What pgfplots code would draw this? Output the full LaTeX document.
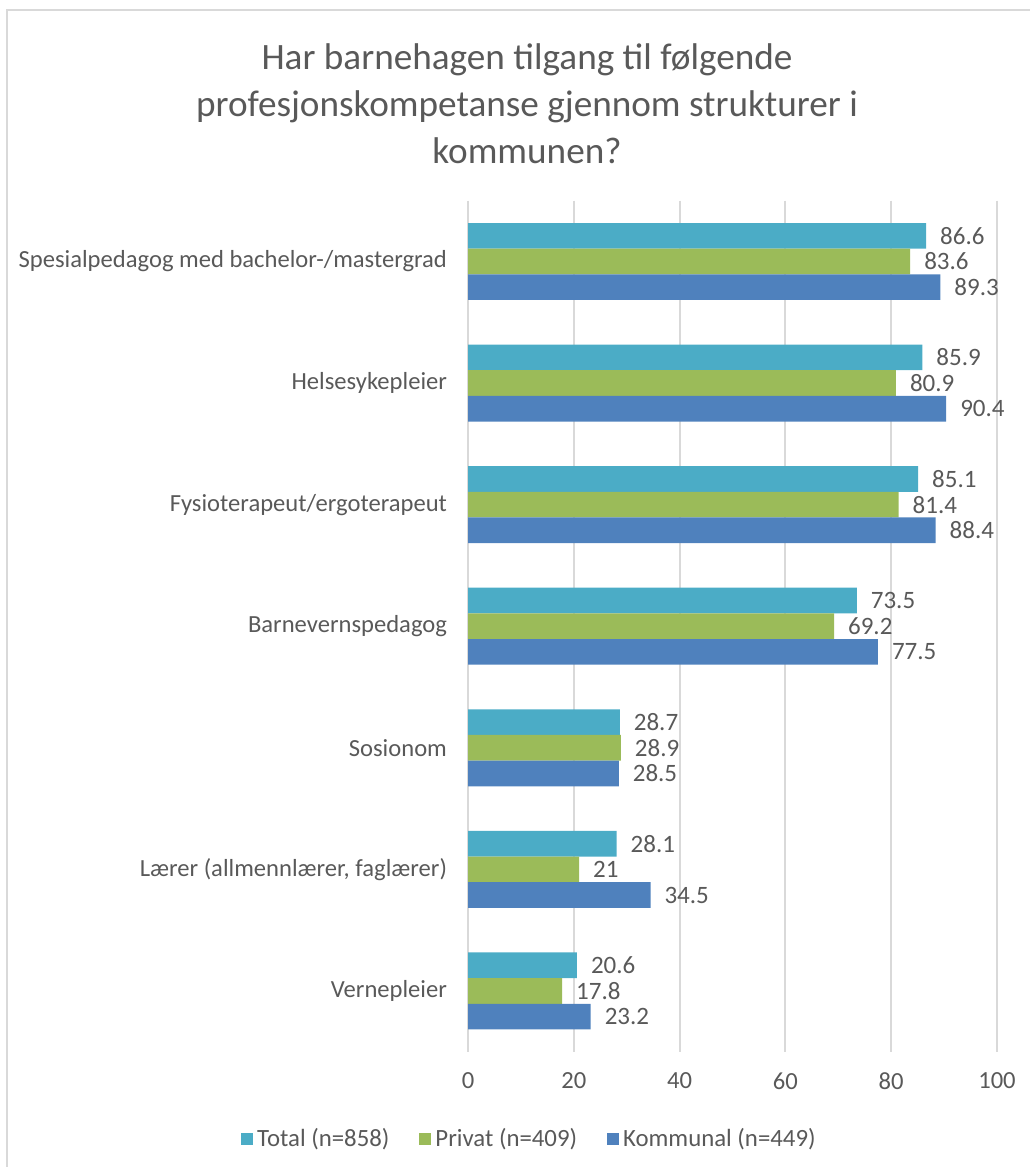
\documentclass[border=0pt]{standalone}
\usepackage{pgfplots}
\pgfplotsset{compat=1.18}
\usepackage{fontspec}
\setmainfont{Carlito}
\definecolor{cTot}{HTML}{4BACC6}
\definecolor{cPri}{HTML}{9BBB59}
\definecolor{cKom}{HTML}{4F81BD}
\definecolor{txt}{HTML}{595959}
\definecolor{gridc}{HTML}{D9D9D9}
\begin{document}
\begin{tikzpicture}
\path[use as bounding box] (0,0) rectangle (515pt,-583.5pt);
\draw[gridc, line width=1pt] (3.5pt,-583.5pt) -- (3.5pt,-5pt) -- (515pt,-5pt);
\node[txt, font=\fontsize{18.6}{23.5}\selectfont, align=center] at (263.5pt,-52pt)
  {Har barnehagen tilgang til følgende\\profesjonskompetanse gjennom strukturer i\\kommunen?};
\begin{axis}[
  at={(234pt,-100.35pt)}, anchor=north west,
  scale only axis, width=264.5pt, height=425.5pt,
  xbar, xmin=0, xmax=100, ymin=-0.5, ymax=6.5, y dir=reverse,
  axis line style={draw=none},
  major tick length=0pt,
  xmajorgrids, grid style={gridc, line width=1pt},
  xtick={0,20,...,100}, ytick={0,...,6},
  yticklabels={Spesialpedagog med bachelor-/mastergrad, Helsesykepleier, Fysioterapeut/ergoterapeut, Barnevernspedagog, Sosionom, {Lærer (allmennlærer, faglærer)}, Vernepleier},
  tick label style={txt, font=\fontsize{12.3}{14}\selectfont},
  xticklabel style={yshift=-7pt},
  yticklabel style={xshift=-7pt},
  /pgf/number format/assume math mode=true,
  bar width=0.211,
  nodes near coords,
  nodes near coords style={txt, font=\fontsize{12.5}{14}\selectfont, anchor=west, xshift=3.5pt, /pgf/number format/assume math mode=true},
  legend style={at={(0.118,-0.102)}, anchor=center, draw=none, fill=none,
    legend columns=3, font=\fontsize{12.4}{14}\selectfont, text=txt,
    /tikz/every even column/.append style={column sep=13pt}},
  legend image code/.code={\fill[#1] (-1.5pt,-3pt) rectangle (4.5pt,3pt);},
]
\addplot[fill=cTot, draw=none, bar shift=-0.211] coordinates {(86.6,0) (85.9,1) (85.1,2) (73.5,3) (28.7,4) (28.1,5) (20.6,6)};
\addplot[fill=cPri, draw=none, bar shift=0] coordinates {(83.6,0) (80.9,1) (81.4,2) (69.2,3) (28.9,4) (21,5) (17.8,6)};
\addplot[fill=cKom, draw=none, bar shift=0.211] coordinates {(89.3,0) (90.4,1) (88.4,2) (77.5,3) (28.5,4) (34.5,5) (23.2,6)};
\legend{Total (n=858), Privat (n=409), Kommunal (n=449)}
\end{axis}
\end{tikzpicture}
\end{document}
